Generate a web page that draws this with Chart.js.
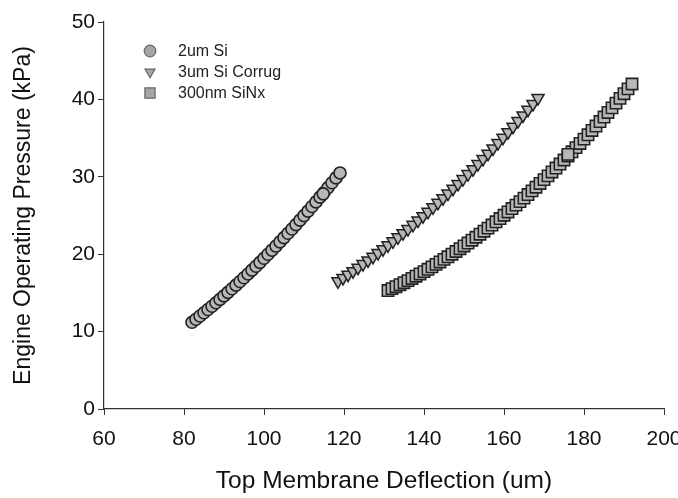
<!DOCTYPE html>
<html>
<head>
<meta charset="utf-8">
<script src="https://cdn.jsdelivr.net/npm/chart.js@4.4.0/dist/chart.umd.min.js"></script>
<style>
  html, body { margin: 0; padding: 0; background: #fff; }
  #wrap { width: 678px; height: 498px; }
</style>
</head>
<body>
<div id="wrap"><canvas id="membraneChart" width="678" height="498"></canvas></div>
<script>
'use strict'

//++++++++++++++ Data ++++++++++++++//
let seriesNames = ['2um Si', '3um Si Corrug', '300nm SiNx'];
let xTicks = [60, 80, 100, 120, 140, 160, 180, 200];
let yTicks = [0, 10, 20, 30, 40, 50];

// 2um Si (circles)
let siDeflection = [82, 83, 84, 85, 86, 87, 88, 89, 90, 91, 92, 93, 94, 95, 96, 97, 98, 99, 100,
  101, 102, 103, 104, 105, 106, 107, 108, 109, 110, 111, 112, 113, 114, 115, 116, 117, 118, 119, 114.8];
let siPressure = [11.20, 11.60, 12.01, 12.43, 12.85, 13.28, 13.72, 14.16, 14.61, 15.07, 15.53, 16.00,
  16.47, 16.96, 17.45, 17.94, 18.44, 18.95, 19.47, 19.99, 20.52, 21.05, 21.59, 22.14, 22.70, 23.26,
  23.82, 24.40, 24.98, 25.57, 26.16, 26.76, 27.37, 27.98, 28.60, 29.23, 29.86, 30.50, 27.8];

// 3um Si Corrug (down triangles)
let corrugDeflection = [118.5, 119.75, 121, 122.25, 123.5, 124.75, 126, 127.25, 128.5, 129.75, 131,
  132.25, 133.5, 134.75, 136, 137.25, 138.5, 139.75, 141, 142.25, 143.5, 144.75, 146, 147.25, 148.5,
  149.75, 151, 152.25, 153.5, 154.75, 156, 157.25, 158.5, 159.75, 161, 162.25, 163.5, 164.75, 166,
  167.25, 168.5];
let corrugPressure = [16.50, 16.93, 17.36, 17.81, 18.26, 18.72, 19.19, 19.67, 20.15, 20.65, 21.15,
  21.66, 22.18, 22.71, 23.25, 23.79, 24.34, 24.91, 25.48, 26.06, 26.64, 27.24, 27.84, 28.46, 29.08,
  29.71, 30.35, 30.99, 31.65, 32.31, 32.99, 33.67, 34.36, 35.05, 35.76, 36.47, 37.20, 37.93, 38.67,
  39.42, 40.18];

// 300nm SiNx (squares)
let sinxDeflection = [131, 132, 133, 134, 135, 136, 137, 138, 139, 140, 141, 142, 143, 144, 145, 146,
  147, 148, 149, 150, 151, 152, 153, 154, 155, 156, 157, 158, 159, 160, 161, 162, 163, 164, 165, 166,
  167, 168, 169, 170, 171, 172, 173, 174, 175, 176, 177, 178, 179, 180, 181, 182, 183, 184, 185, 186,
  187, 188, 189, 190, 191, 192, 176];
let sinxPressure = [15.30, 15.55, 15.80, 16.06, 16.32, 16.59, 16.87, 17.16, 17.45, 17.75, 18.05, 18.36,
  18.68, 19.00, 19.33, 19.66, 20.00, 20.35, 20.71, 21.07, 21.44, 21.81, 22.19, 22.58, 22.97, 23.37,
  23.77, 24.19, 24.61, 25.03, 25.46, 25.90, 26.34, 26.79, 27.25, 27.71, 28.18, 28.66, 29.14, 29.63,
  30.12, 30.63, 31.13, 31.65, 32.17, 32.69, 33.23, 33.77, 34.31, 34.87, 35.43, 35.99, 36.56, 37.14,
  37.72, 38.31, 38.91, 39.52, 40.13, 40.74, 41.36, 41.99, 32.9];

//++++++++++++++ Helpers ++++++++++++++//
function toPoints(xs, ys) {
  let pts = [];
  for (let i = 0; i < xs.length; i++) {
    pts.push({ x: xs[i], y: ys[i] });
  }
  return pts;
}

const FONT = 'Arial, "Liberation Sans", sans-serif';
const markerFill = '#b8b8b8';
const markerEdge = '#222';

// legend sits inside the plot, symbols well apart from their text
const insetLegend = {
  id: 'insetLegend',
  afterDraw(chart) {
    let c = chart.ctx;
    c.save();
    c.font = '16px ' + FONT;
    c.textBaseline = 'middle';
    c.textAlign = 'left';
    chart.data.datasets.forEach((ds, i) => {
      let y = 51 + i * 21;
      c.fillStyle = '#a6a6a6';
      c.strokeStyle = '#666';
      c.lineWidth = 1.2;
      Chart.helpers.drawPoint(c, {
        pointStyle: ds.pointStyle,
        rotation: ds.pointRotation || 0,
        radius: ds.pointStyle === 'rect' ? 7.2 : 5.8,
        borderWidth: 1.2
      }, 150, y);
      c.fillStyle = '#222';
      c.fillText(ds.label, 178, y + 1);
    });
    c.restore();
  }
};

//++++++++++++++ Chart ++++++++++++++//
const ctx = document.getElementById('membraneChart').getContext('2d');
const membraneChart = new Chart(ctx, {
  type: 'scatter',
  data: {
    datasets: [{
      label: seriesNames[0],
      data: toPoints(siDeflection, siPressure),
      pointStyle: 'circle',
      pointRadius: 6,
      backgroundColor: markerFill,
      borderColor: markerEdge,
      borderWidth: 1.6
    }, {
      label: seriesNames[1],
      data: toPoints(corrugDeflection, corrugPressure),
      pointStyle: 'triangle',
      pointRotation: 180,
      pointRadius: 7,
      backgroundColor: markerFill,
      borderColor: markerEdge,
      borderWidth: 1.5
    }, {
      label: seriesNames[2],
      data: toPoints(sinxDeflection, sinxPressure),
      pointStyle: 'rect',
      pointRadius: 8,
      backgroundColor: markerFill,
      borderColor: markerEdge,
      borderWidth: 1.6
    }]
  },
  options: {
    responsive: false,
    animation: false,
    events: [],
    layout: { padding: { top: 22, right: 14, left: 0, bottom: 0 } },
    plugins: {
      tooltip: { enabled: false },
      legend: { display: false }
    },
    scales: {
      x: {
        type: 'linear',
        min: 60,
        max: 200,
        afterBuildTicks: scale => { scale.ticks = xTicks.map(v => ({ value: v })); },
        afterFit: scale => { scale.height = 89; scale.paddingRight = 0; scale.paddingLeft = 0; },
        grid: { drawOnChartArea: false, drawTicks: true, tickLength: 6, color: '#333' },
        border: { color: '#333', width: 1.2 },
        ticks: { color: '#111', padding: 12, maxRotation: 0, font: { family: FONT, size: 21 } },
        title: {
          display: true,
          text: 'Top Membrane Deflection (um)',
          color: '#111',
          font: { family: FONT, size: 24.5 },
          padding: { top: 4, bottom: 2 }
        }
      },
      y: {
        type: 'linear',
        min: 0,
        max: 50,
        afterBuildTicks: scale => { scale.ticks = yTicks.map(v => ({ value: v })); },
        afterFit: scale => { scale.width = 104; },
        grid: { drawOnChartArea: false, drawTicks: true, tickLength: 6, color: '#333' },
        border: { color: '#333', width: 1.2 },
        ticks: { color: '#111', padding: 3, font: { family: FONT, size: 21 } },
        title: {
          display: true,
          text: 'Engine Operating Pressure (kPa)',
          color: '#111',
          font: { family: FONT, size: 23 },
          padding: { top: 10, bottom: 4 }
        }
      }
    }
  },
  plugins: [insetLegend]
});
</script>
</body>
</html>
